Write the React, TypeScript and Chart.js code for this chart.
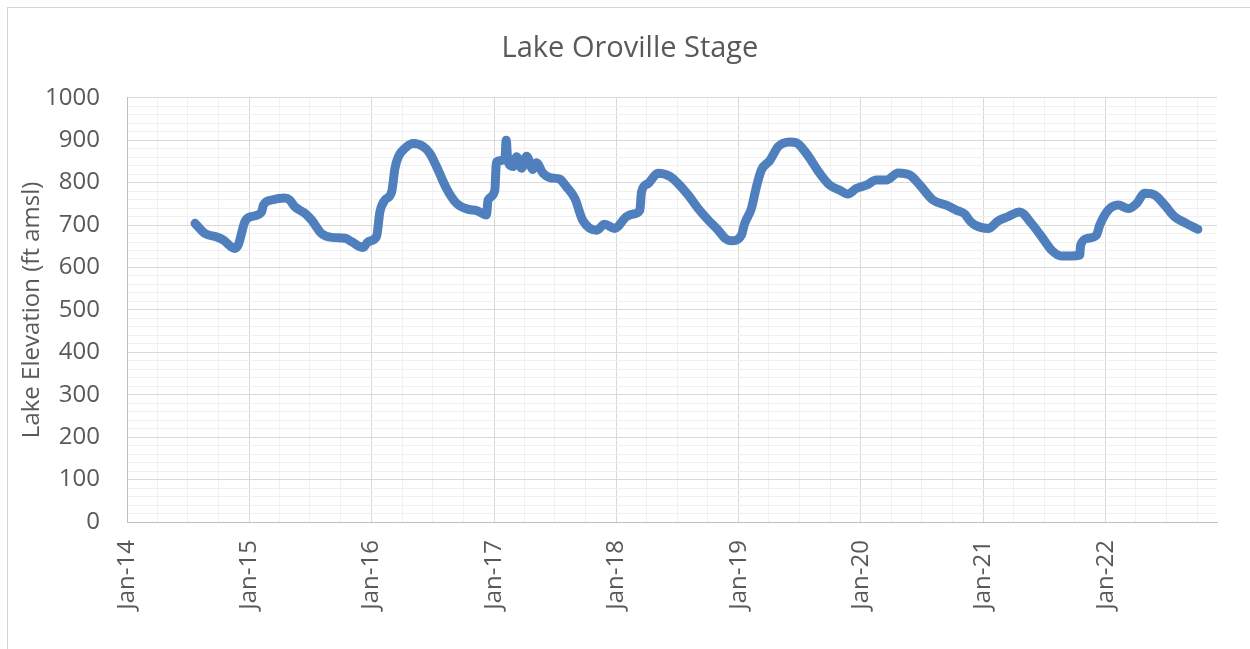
import React, { useEffect, useRef } from "react";
import { Chart, registerables } from "chart.js";

Chart.register(...registerables);

const TITLE = "Lake Oroville Stage";
const Y_TITLE = "Lake Elevation (ft amsl)";

const dates: string[] = [
  "2014-07-23", "2014-08-22", "2014-09-26", "2014-10-15", "2014-11-19", "2014-11-29", "2014-12-19",
  "2015-01-08", "2015-02-07", "2015-02-12", "2015-03-09", "2015-04-17", "2015-05-02", "2015-05-17",
  "2015-06-16", "2015-07-06", "2015-08-05", "2015-09-04", "2015-10-14", "2015-11-02", "2015-12-07",
  "2015-12-22", "2016-01-16", "2016-01-26", "2016-02-10", "2016-03-01", "2016-03-11", "2016-03-21",
  "2016-04-10", "2016-05-05", "2016-06-03", "2016-06-23", "2016-07-13", "2016-08-12", "2016-09-11",
  "2016-10-16", "2016-11-10", "2016-12-09", "2016-12-14", "2017-01-03", "2017-01-08", "2017-02-02",
  "2017-02-06", "2017-02-11", "2017-02-27", "2017-03-09", "2017-03-24", "2017-04-08", "2017-04-27",
  "2017-05-07", "2017-05-27", "2017-06-16", "2017-07-16", "2017-08-05", "2017-08-30", "2017-09-22",
  "2017-11-03", "2017-11-27", "2017-12-27", "2018-01-31", "2018-02-20", "2018-03-12", "2018-03-17",
  "2018-04-06", "2018-05-05", "2018-06-09", "2018-07-04", "2018-08-03", "2018-09-02", "2018-10-02",
  "2018-11-01", "2018-11-21", "2018-12-11", "2019-01-09", "2019-01-19", "2019-02-08", "2019-02-23",
  "2019-03-10", "2019-04-04", "2019-04-29", "2019-06-02", "2019-06-22", "2019-07-22", "2019-08-31",
  "2019-09-30", "2019-10-30", "2019-11-23", "2019-12-18", "2020-01-17", "2020-02-16", "2020-03-17",
  "2020-04-21", "2020-05-26", "2020-06-25", "2020-08-03", "2020-09-12", "2020-10-12", "2020-11-06",
  "2020-11-21", "2020-12-06", "2021-01-15", "2021-02-14", "2021-03-15", "2021-04-19", "2021-05-24",
  "2021-06-23", "2021-07-23", "2021-08-21", "2021-09-20", "2021-10-15", "2021-10-18", "2021-11-09",
  "2021-12-04", "2021-12-14", "2022-01-08", "2022-02-07", "2022-03-09", "2022-04-03", "2022-04-27",
  "2022-05-27", "2022-06-26", "2022-07-25", "2022-08-29", "2022-10-03",
];

const elevations: number[] = [
  704, 680, 672, 665, 645, 653, 708,
  720, 731, 747, 759, 764, 759, 743,
  728, 712, 680, 671, 669, 661, 647,
  661, 673, 731, 759, 778, 834, 861,
  881, 892, 885, 869, 838, 786, 751,
  737, 734, 724, 759, 782, 849, 855,
  900, 850, 838, 861, 834, 862, 831,
  847, 822, 812, 808, 790, 763, 712,
  688, 702, 692, 720, 726, 735, 778,
  798, 822, 815, 798, 771, 739, 712,
  688, 669, 663, 676, 704, 739, 790,
  830, 852, 885, 896, 894, 869, 822,
  794, 782, 773, 786, 794, 806, 806,
  823, 818, 794, 759, 747, 735, 726,
  710, 700, 692, 710, 720, 731, 704,
  673, 641, 627, 627, 629, 653, 669,
  676, 700, 735, 747, 739, 751, 775,
  771, 747, 720, 704, 690,
];

const AXIS_START = "2014-01-01";
const AXIS_END = "2022-11-29";
const Y_MIN = 0;
const Y_MAX = 1000;
const Y_MINOR_STEP = 20;
const Y_MAJOR_STEP = 100;
const MONTHS = ["Jan", "Feb", "Mar", "Apr", "May", "Jun", "Jul", "Aug", "Sep", "Oct", "Nov", "Dec"];

const DAY = 86400000;
const startMs = Date.parse(AXIS_START + "T00:00:00Z");
const toDay = (s: string) => Math.round((Date.parse(s + "T00:00:00Z") - startMs) / DAY);
const dayToDate = (d: number) => new Date(startMs + d * DAY);

const TEXT = "#595959";
const FONT = "'Open Sans', 'Noto Sans', sans-serif";

export default function App() {
  const ref = useRef<HTMLCanvasElement | null>(null);

  useEffect(() => {
    if (!ref.current) return;
    const points = dates.map((d, i) => ({ x: toDay(d), y: elevations[i] }));
    const endDay = toDay(AXIS_END);

    const quarterTicks: { value: number }[] = [];
    for (let y = 2014; y <= 2022; y++) {
      for (let m = 0; m < 12; m += 3) {
        const v = Math.round((Date.UTC(y, m, 1) - startMs) / DAY);
        if (v <= endDay) quarterTicks.push({ value: v });
      }
    }
    const isJan = (v: number) => dayToDate(v).getUTCMonth() === 0;

    const chart = new Chart(ref.current, {
      type: "line",
      data: {
        datasets: [
          {
            label: "Stage",
            data: points,
            borderColor: "#4F80BD",
            backgroundColor: "#4F80BD",
            borderWidth: 9,
            pointRadius: 0,
            cubicInterpolationMode: "monotone",
            borderCapStyle: "round",
            borderJoinStyle: "round",
          },
        ],
      },
      options: {
        animation: false,
        responsive: false,
        maintainAspectRatio: false,
        layout: { padding: { left: 35, right: 31, top: 0, bottom: 0 } },
        plugins: {
          legend: { display: false },
          tooltip: { enabled: false },
          title: {
            display: true,
            text: TITLE,
            color: TEXT,
            font: { family: FONT, size: 29, weight: "normal" },
            padding: { top: 23, bottom: 32 },
          },
        },
        scales: {
          x: {
            type: "linear",
            min: 0,
            max: endDay,
            afterBuildTicks: (scale: any) => {
              scale.ticks = quarterTicks.map((t) => ({ value: t.value }));
            },
            afterFit: (scale: any) => {
              scale.height = 131;
            },
            grid: {
              drawTicks: false,
              color: (ctx: any) => (ctx.tick && isJan(ctx.tick.value) ? "#d9d9d9" : "#f0f0f0"),
              lineWidth: 1,
            },
            border: { color: "#bfbfbf", width: 1 },
            ticks: {
              autoSkip: false,
              minRotation: 90,
              maxRotation: 90,
              padding: 18,
              color: TEXT,
              font: { family: FONT, size: 24 },
              callback: (v: any) => {
                const d = dayToDate(Number(v));
                if (d.getUTCMonth() !== 0) return "";
                return MONTHS[0] + "-" + String(d.getUTCFullYear()).slice(2);
              },
            },
          },
          y: {
            min: Y_MIN,
            max: Y_MAX,
            afterFit: (scale: any) => {
              scale.width = 84;
            },
            grid: {
              drawTicks: false,
              color: (ctx: any) =>
                ctx.tick && ctx.tick.value % Y_MAJOR_STEP === 0 ? "#d9d9d9" : "#f0f0f0",
              lineWidth: 1,
            },
            border: { color: "#bfbfbf", width: 1 },
            ticks: {
              stepSize: Y_MINOR_STEP,
              autoSkip: false,
              padding: 27,
              color: TEXT,
              font: { family: FONT, size: 24 },
              callback: (v: any) => (Number(v) % Y_MAJOR_STEP === 0 ? String(v) : ""),
            },
            title: {
              display: true,
              text: Y_TITLE,
              color: TEXT,
              font: { family: FONT, size: 24 },
              padding: { top: -25, bottom: 0 },
            },
          },
        },
      },
    });
    return () => chart.destroy();
  }, []);

  return (
    <div
      style={{
        position: "absolute",
        left: 7,
        top: 7,
        width: 1260,
        height: 645,
        border: "1px solid #d4d4d4",
        background: "#fff",
      }}
    >
      <canvas ref={ref} width={1240} height={645} style={{ display: "block" }} />
    </div>
  );
}
